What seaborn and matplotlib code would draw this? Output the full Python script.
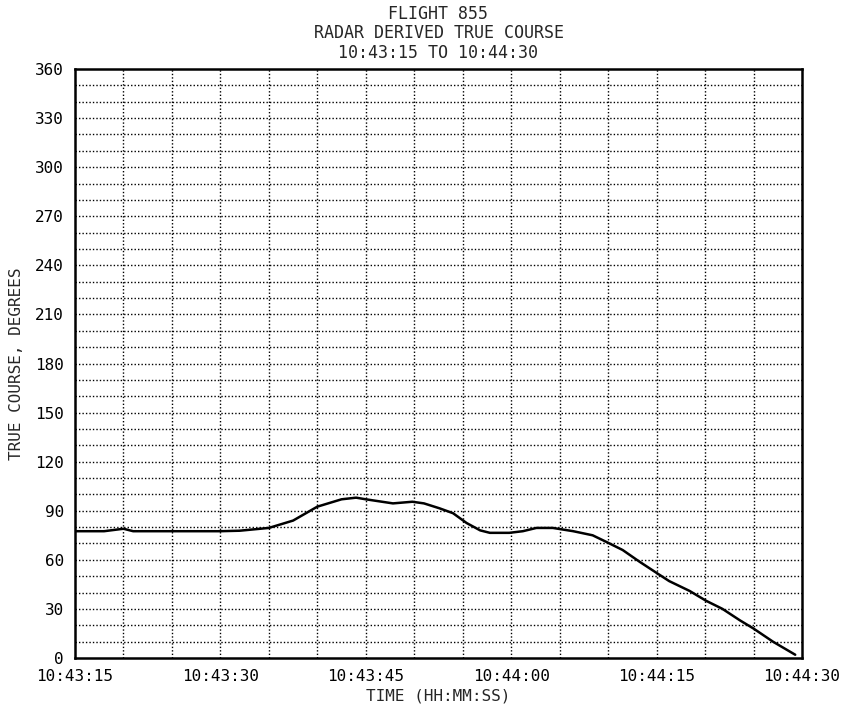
import numpy as np
import pandas as pd
import matplotlib
matplotlib.use('Agg')
import matplotlib.pyplot as plt
import seaborn as sns

# seconds after 10:43:15 and radar derived true course (deg)
segundos = [0, 3, 5, 6, 10, 15, 17, 20, 22.5, 25, 27.5, 29, 30, 32.8, 34.8, 36, 37.6, 39,
            40.4, 41.8, 42.8, 44.8, 46.2, 47.6, 49.3, 51.4, 53.4, 54.8, 56.5, 58.2, 60,
            61.3, 63.4, 65.1, 66.8, 68.6, 70, 72, 74.3]
curso = [77.5, 77.5, 79, 77.5, 77.5, 77.5, 77.8, 79.5, 84, 92.5, 97, 98, 97, 94.5, 95.5, 94.5,
         91.5, 88.5, 82.5, 78, 76.5, 76.5, 77.5, 79.5, 79.5, 77.5, 75, 71, 66, 59, 52,
         47, 41, 35, 30, 23, 18, 10, 2]

xticks_pos = [0, 15, 30, 45, 60, 75]
xticks_lab = ['10:43:15', '10:43:30', '10:43:45', '10:44:00', '10:44:15', '10:44:30']
yticks_pos = list(range(0, 361, 30))

titulo = 'FLIGHT 855\nRADAR DERIVED TRUE COURSE\n10:43:15 TO 10:44:30'

base = pd.DataFrame({'t': segundos, 'curso': curso})

sns.set_style('white')
plt.rcParams['font.family'] = ['DejaVu Sans Mono']

fig = plt.figure(figsize=(8.49, 7.11), dpi=100)
ax = fig.add_axes([75 / 849, 1 - 658 / 711, 727 / 849, 589 / 711])

# grade pontilhada
for xv in np.arange(5, 75, 5):
    ax.axvline(xv, color='black', lw=1.0, ls=(0, (1, 1.5)), zorder=1)
for yv in np.arange(10, 360, 10):
    ax.axhline(yv, color='black', lw=1.0, ls=(0, (1, 1.5)), zorder=1)

sns.lineplot(data=base, x='t', y='curso', color='black', lw=1.8, ax=ax, zorder=3)

ax.set_xlim(0, 75)
ax.set_ylim(0, 360)
ax.set_xticks(xticks_pos)
ax.set_xticklabels(xticks_lab)
ax.set_yticks(yticks_pos)
ax.tick_params(axis='both', direction='in', length=12, width=1.5, labelsize=11.5,
               colors='black')
ax.tick_params(axis='x', pad=8)
ax.tick_params(axis='y', pad=8)
for s in ax.spines.values():
    s.set_linewidth(1.8)
    s.set_color('black')

ax.set_xlabel('TIME (HH:MM:SS)', fontsize=11.5, labelpad=3)
ax.set_ylabel('TRUE COURSE, DEGREES', fontsize=11.5, labelpad=8)
ax.set_title(titulo, fontsize=12, linespacing=1.1, pad=8)

fig.savefig('out.png', dpi=100)
